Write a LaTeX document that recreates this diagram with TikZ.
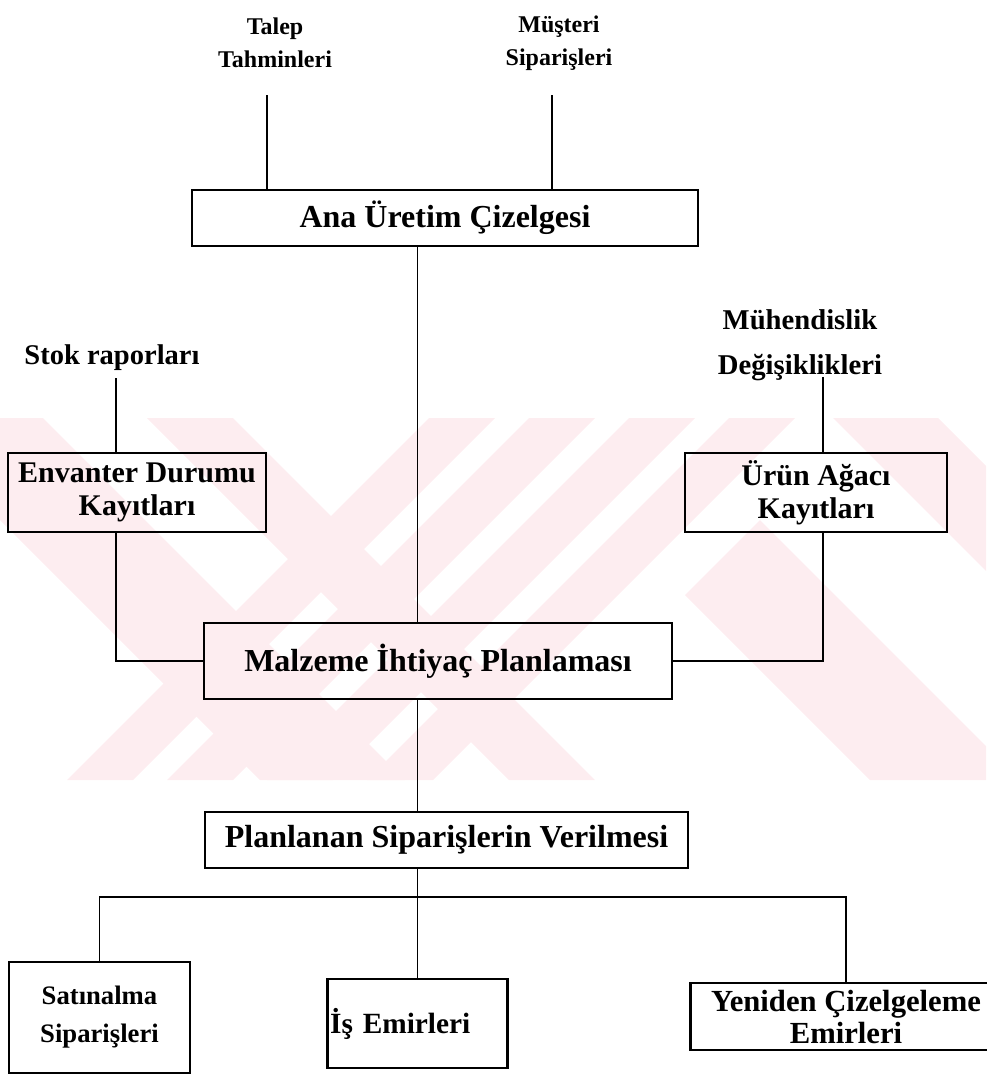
\documentclass[tikz,border=0pt]{standalone}
\usepackage{fontspec}
\setmainfont{Liberation Serif}
\usepackage{tikz}
\usetikzlibrary{positioning}
\definecolor{wmark}{HTML}{FDEDF0}
\newcommand{\fs}[2]{\fontsize{#1}{#2}\selectfont\bfseries}
\tikzset{
  box/.style={draw, line width=1.6pt, inner sep=2pt, align=center},
  lbl/.style={inner sep=0pt, align=center},
  link/.style={line width=1pt},
  feed/.style={line width=1.6pt},
}

\begin{document}
\begin{tikzpicture}[x=0.75pt,y=-0.75pt]
  \useasboundingbox (0,0) rectangle (986,1075);
  % watermark in the background
  \begin{scope}
    \clip (0,418) rectangle (986,780);
    \fill[wmark] (-102,418) -- (43,418) -- (405,780) -- (260,780) -- cycle;
    \fill[wmark] (147,418) -- (233,418) -- (595,780) -- (509,780) -- cycle;
    \fill[wmark] (429,418) -- (495,418) -- (133,780) -- (67,780) -- cycle;
    \fill[wmark] (529,418) -- (595,418) -- (233,780) -- (167,780) -- cycle;
    \fill[wmark] (629,418) -- (695,418) -- (333,780) -- (267,780) -- cycle;
    \fill[wmark] (729,418) -- (795,418) -- (433,780) -- (367,780) -- cycle;
    \fill[wmark] (685,595) -- (760,520) -- (1020,780) -- (870,780) -- cycle;
    \fill[wmark] (833,418) -- (938,418) -- (1300,780) -- (1195,780) -- cycle;
  \end{scope}

  \node[lbl, font=\fs{18}{24.75}] (talep) at (275,43) {Talep\\Tahminleri};
  \node[lbl, font=\fs{18}{24.75}] (must) at (559,43) {Müşteri\\Siparişleri};
  \node[box, minimum width=379.5pt, minimum height=42pt, font=\fs{24}{28}] (ana) at (445,218) {Ana Üretim Çizelgesi};
  \node[lbl, font=\fs{21.4}{26}] (stok) at (112,358) {Stok raporları};
  \node[lbl, font=\fs{21.5}{33.75}] (muh) at (800,345) {Mühendislik\\Değişiklikleri};
  \node[box, minimum width=193.5pt, minimum height=59.25pt, font=\fs{22.5}{24.75}] (env) at (137,492.5) {Envanter Durumu\\Kayıtları};
  \node[box, minimum width=196.5pt, minimum height=59.25pt, font=\fs{22.5}{24.75}] (urun) at (816,492.5) {Ürün Ağacı\\Kayıtları};
  \node[box, minimum width=351pt, minimum height=57pt, font=\fs{24}{28}] (mip) at (438,661) {Malzeme İhtiyaç Planlaması};
  \node[box, minimum width=362.25pt, minimum height=42pt, font=\fs{24}{28}] (pso) at (446.5,840) {Planlanan Siparişlerin Verilmesi};
  \node[box, minimum width=135.75pt, minimum height=83.25pt, font=\fs{20}{28.5}] (sat) at (99.5,1017.5) {Satınalma\\Siparişleri};
  \node[box, text width=131pt, minimum height=66.75pt, align=left, font=\fs{22}{26}] (isem) at (417.5,1023.5) {İş Emirleri};
  \node[box, minimum width=233.25pt, minimum height=50.25pt, font=\fs{23}{24}] (yen) at (846,1016.5) {Yeniden Çizelgeleme\\Emirleri};

  \coordinate (tl) at (267,95);
  \coordinate (ml) at (552,95);
  \coordinate (sl) at (116,378);
  \coordinate (dl) at (823,377);
  \coordinate (bus) at (417.5,897);

  \draw[feed] (tl) -- (tl |- ana.north);
  \draw[feed] (ml) -- (ml |- ana.north);
  \draw[link] (ana.south -| bus) -- (mip.north -| bus);
  \draw[link] (sl) -- (sl |- env.north);
  \draw[link] (sl |- env.south) |- (mip.west);
  \draw[feed] (dl) -- (dl |- urun.north);
  \draw[link] (dl |- urun.south) |- (mip.east);
  \draw[link] (mip.south -| bus) -- (pso.north -| bus);
  \draw[link] (pso.south -| bus) -- (isem.north);
  \draw[link] (sat.north) |- (bus) -| (yen.north);
\end{tikzpicture}
\end{document}
